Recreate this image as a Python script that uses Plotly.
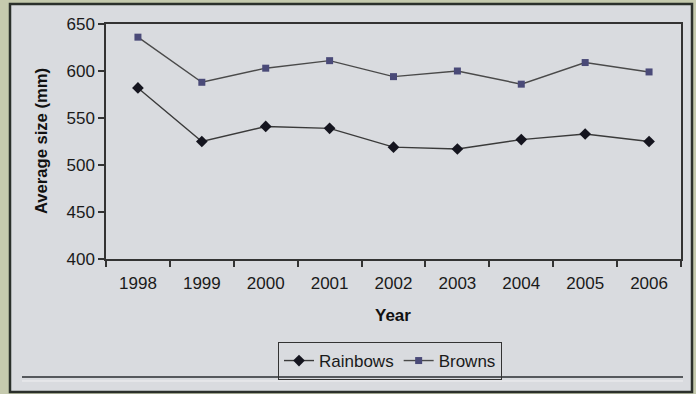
import plotly.graph_objects as go

# Average fish size by year
years = ["1998", "1999", "2000", "2001", "2002", "2003", "2004", "2005", "2006"]
rainbows = [582, 525, 541, 539, 519, 517, 527, 533, 525]
browns = [636, 588, 603, 611, 594, 600, 586, 609, 599]

W, H = 696, 394
L, R, T, B = 106, 681, 24, 259  # plot area in pixels
FONT = "Liberation Sans, Arial"


def px(x):
    return (x - L) / (R - L)


def py(y):
    return (B - y) / (B - T)


fig = go.Figure()
fig.add_trace(go.Scatter(
    x=years, y=rainbows, name="Rainbows", mode="lines+markers",
    line=dict(color="#3a3a3a", width=1.4),
    marker=dict(symbol="diamond", size=9, color="#15151f"),
))
fig.add_trace(go.Scatter(
    x=years, y=browns, name="Browns", mode="lines+markers",
    line=dict(color="#4a4a4a", width=1.4),
    marker=dict(symbol="square", size=7, color="#4a4a78"),
))

shapes = [
    # chart panel with dark frame
    dict(type="rect", xref="paper", yref="paper", layer="below",
         x0=px(10), x1=px(692), y0=py(4), y1=py(392),
         fillcolor="#d9dbdf", line=dict(color="#2b302b", width=2.5)),
    # separator under the legend
    dict(type="line", xref="paper", yref="paper",
         x0=px(22), x1=px(683), y0=py(377), y1=py(377),
         line=dict(color="#55585c", width=2)),
    dict(type="line", xref="paper", yref="paper",
         x0=px(22), x1=px(683), y0=py(381), y1=py(381),
         line=dict(color="#f0f0f2", width=1)),
]

annotations = [
    dict(text="<b>Year</b>", xref="paper", yref="paper",
         x=px(393), y=py(315), xanchor="center", yanchor="middle",
         showarrow=False, font=dict(family=FONT, size=17, color="#111")),
    dict(text="<b>Average size (mm)</b>", xref="paper", yref="paper",
         x=px(41), y=py(141), xanchor="center", yanchor="middle",
         showarrow=False, textangle=-90,
         font=dict(family=FONT, size=16.6, color="#111")),
]

fig.update_layout(
    width=W, height=H,
    margin=dict(l=L, r=W - R, t=T, b=H - B),
    paper_bgcolor="#c5caae",
    plot_bgcolor="#dcdee2",
    font=dict(family=FONT, size=17, color="#1a1a1a"),
    shapes=shapes,
    annotations=annotations,
    showlegend=True,
    legend=dict(
        orientation="h", x=px(278), y=py(342), xanchor="left", yanchor="top",
        bgcolor="rgba(0,0,0,0)", bordercolor="#333", borderwidth=1,
        font=dict(size=17), itemwidth=30, tracegroupgap=0,
    ),
)

fig.update_xaxes(
    type="category", range=[-0.5, 8.5], tickson="boundaries",
    ticks="outside", ticklen=6, tickcolor="#333", tickwidth=1.5,
    showline=True, linecolor="#333", linewidth=1.5, mirror=True,
    showgrid=False, zeroline=False, tickfont=dict(size=17),
    ticklabelstandoff=8,
)
fig.update_yaxes(
    range=[400, 650], dtick=50, tick0=400,
    ticks="outside", ticklen=6, tickcolor="#333", tickwidth=1.5,
    showline=True, linecolor="#333", linewidth=1.5, mirror=True,
    showgrid=False, zeroline=False, tickfont=dict(size=17),
)

fig.write_html("out.html")
